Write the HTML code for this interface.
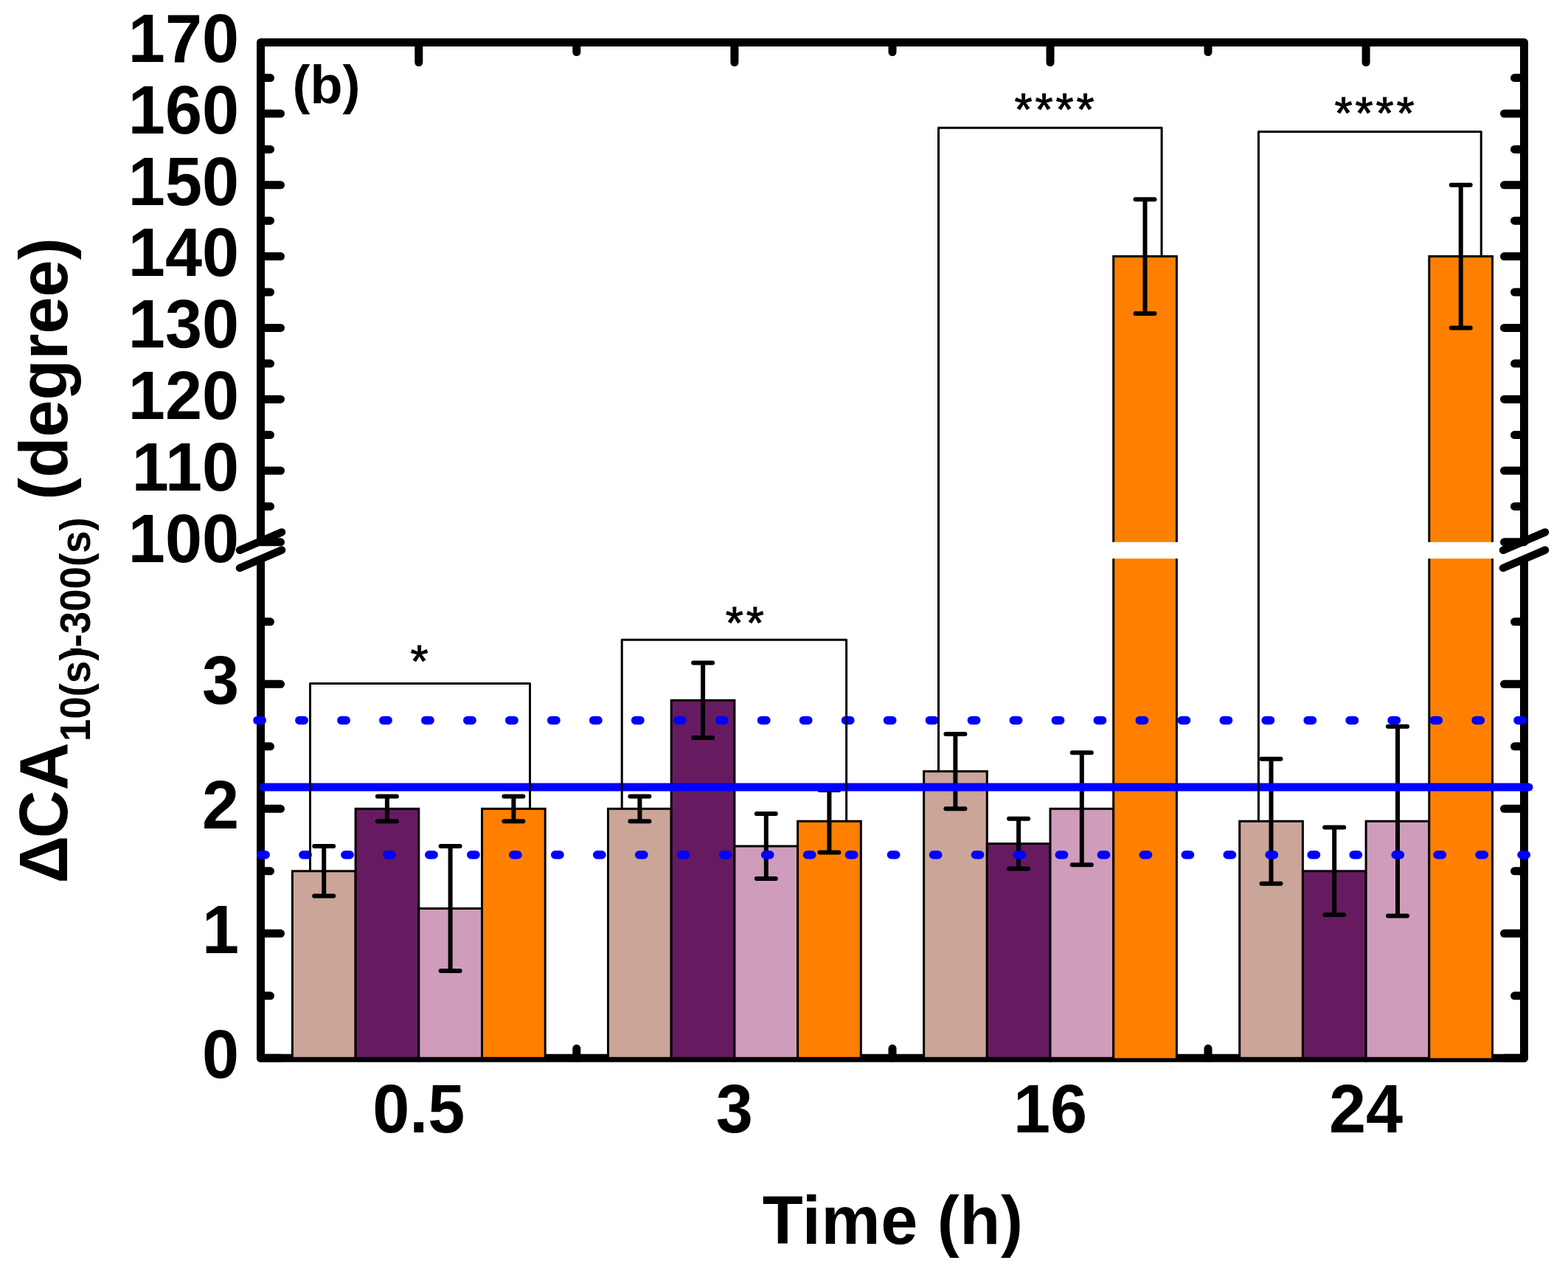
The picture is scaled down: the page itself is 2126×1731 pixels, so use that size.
<!DOCTYPE html>
<html><head><meta charset="utf-8"><title>Chart</title>
<style>html,body{margin:0;padding:0;background:#fff;overflow:hidden}svg{display:block}</style>
</head><body>
<svg width="2126" height="1731" viewBox="0 0 2126 1731">
<rect width="2126" height="1731" fill="#fff"/>
<g stroke="#000"><line x1="353.5" y1="734.8" x2="380.5" y2="734.8" stroke-width="11" stroke-linecap="round"/><line x1="2066.5" y1="734.8" x2="2039.5" y2="734.8" stroke-width="11" stroke-linecap="round"/><line x1="353.5" y1="638.0" x2="380.5" y2="638.0" stroke-width="11" stroke-linecap="round"/><line x1="2066.5" y1="638.0" x2="2039.5" y2="638.0" stroke-width="11" stroke-linecap="round"/><line x1="353.5" y1="541.2" x2="380.5" y2="541.2" stroke-width="11" stroke-linecap="round"/><line x1="2066.5" y1="541.2" x2="2039.5" y2="541.2" stroke-width="11" stroke-linecap="round"/><line x1="353.5" y1="444.4" x2="380.5" y2="444.4" stroke-width="11" stroke-linecap="round"/><line x1="2066.5" y1="444.4" x2="2039.5" y2="444.4" stroke-width="11" stroke-linecap="round"/><line x1="353.5" y1="347.6" x2="380.5" y2="347.6" stroke-width="11" stroke-linecap="round"/><line x1="2066.5" y1="347.6" x2="2039.5" y2="347.6" stroke-width="11" stroke-linecap="round"/><line x1="353.5" y1="250.8" x2="380.5" y2="250.8" stroke-width="11" stroke-linecap="round"/><line x1="2066.5" y1="250.8" x2="2039.5" y2="250.8" stroke-width="11" stroke-linecap="round"/><line x1="353.5" y1="154.0" x2="380.5" y2="154.0" stroke-width="11" stroke-linecap="round"/><line x1="2066.5" y1="154.0" x2="2039.5" y2="154.0" stroke-width="11" stroke-linecap="round"/><line x1="353.5" y1="1434.3" x2="380.5" y2="1434.3" stroke-width="11" stroke-linecap="round"/><line x1="2066.5" y1="1434.3" x2="2039.5" y2="1434.3" stroke-width="11" stroke-linecap="round"/><line x1="353.5" y1="1265.3" x2="380.5" y2="1265.3" stroke-width="11" stroke-linecap="round"/><line x1="2066.5" y1="1265.3" x2="2039.5" y2="1265.3" stroke-width="11" stroke-linecap="round"/><line x1="353.5" y1="1096.3" x2="380.5" y2="1096.3" stroke-width="11" stroke-linecap="round"/><line x1="2066.5" y1="1096.3" x2="2039.5" y2="1096.3" stroke-width="11" stroke-linecap="round"/><line x1="353.5" y1="927.3" x2="380.5" y2="927.3" stroke-width="11" stroke-linecap="round"/><line x1="2066.5" y1="927.3" x2="2039.5" y2="927.3" stroke-width="11" stroke-linecap="round"/><line x1="353.5" y1="686.4" x2="366.5" y2="686.4" stroke-width="11" stroke-linecap="round"/><line x1="2066.5" y1="686.4" x2="2053.5" y2="686.4" stroke-width="11" stroke-linecap="round"/><line x1="353.5" y1="589.6" x2="366.5" y2="589.6" stroke-width="11" stroke-linecap="round"/><line x1="2066.5" y1="589.6" x2="2053.5" y2="589.6" stroke-width="11" stroke-linecap="round"/><line x1="353.5" y1="492.8" x2="366.5" y2="492.8" stroke-width="11" stroke-linecap="round"/><line x1="2066.5" y1="492.8" x2="2053.5" y2="492.8" stroke-width="11" stroke-linecap="round"/><line x1="353.5" y1="396.0" x2="366.5" y2="396.0" stroke-width="11" stroke-linecap="round"/><line x1="2066.5" y1="396.0" x2="2053.5" y2="396.0" stroke-width="11" stroke-linecap="round"/><line x1="353.5" y1="299.2" x2="366.5" y2="299.2" stroke-width="11" stroke-linecap="round"/><line x1="2066.5" y1="299.2" x2="2053.5" y2="299.2" stroke-width="11" stroke-linecap="round"/><line x1="353.5" y1="202.4" x2="366.5" y2="202.4" stroke-width="11" stroke-linecap="round"/><line x1="2066.5" y1="202.4" x2="2053.5" y2="202.4" stroke-width="11" stroke-linecap="round"/><line x1="353.5" y1="105.6" x2="366.5" y2="105.6" stroke-width="11" stroke-linecap="round"/><line x1="2066.5" y1="105.6" x2="2053.5" y2="105.6" stroke-width="11" stroke-linecap="round"/><line x1="353.5" y1="1349.8" x2="366.5" y2="1349.8" stroke-width="11" stroke-linecap="round"/><line x1="2066.5" y1="1349.8" x2="2053.5" y2="1349.8" stroke-width="11" stroke-linecap="round"/><line x1="353.5" y1="1180.8" x2="366.5" y2="1180.8" stroke-width="11" stroke-linecap="round"/><line x1="2066.5" y1="1180.8" x2="2053.5" y2="1180.8" stroke-width="11" stroke-linecap="round"/><line x1="353.5" y1="1011.8" x2="366.5" y2="1011.8" stroke-width="11" stroke-linecap="round"/><line x1="2066.5" y1="1011.8" x2="2053.5" y2="1011.8" stroke-width="11" stroke-linecap="round"/><line x1="353.5" y1="842.8" x2="366.5" y2="842.8" stroke-width="11" stroke-linecap="round"/><line x1="2066.5" y1="842.8" x2="2053.5" y2="842.8" stroke-width="11" stroke-linecap="round"/><line x1="567.8" y1="57.5" x2="567.8" y2="84.5" stroke-width="11" stroke-linecap="round"/><line x1="567.8" y1="1434.3" x2="567.8" y2="1407.3" stroke-width="11" stroke-linecap="round"/><line x1="995.9" y1="57.5" x2="995.9" y2="84.5" stroke-width="11" stroke-linecap="round"/><line x1="995.9" y1="1434.3" x2="995.9" y2="1407.3" stroke-width="11" stroke-linecap="round"/><line x1="1424.0" y1="57.5" x2="1424.0" y2="84.5" stroke-width="11" stroke-linecap="round"/><line x1="1424.0" y1="1434.3" x2="1424.0" y2="1407.3" stroke-width="11" stroke-linecap="round"/><line x1="1852.1" y1="57.5" x2="1852.1" y2="84.5" stroke-width="11" stroke-linecap="round"/><line x1="1852.1" y1="1434.3" x2="1852.1" y2="1407.3" stroke-width="11" stroke-linecap="round"/><line x1="781.8" y1="57.5" x2="781.8" y2="70.5" stroke-width="11" stroke-linecap="round"/><line x1="781.8" y1="1434.3" x2="781.8" y2="1421.3" stroke-width="11" stroke-linecap="round"/><line x1="1210.0" y1="57.5" x2="1210.0" y2="70.5" stroke-width="11" stroke-linecap="round"/><line x1="1210.0" y1="1434.3" x2="1210.0" y2="1421.3" stroke-width="11" stroke-linecap="round"/><line x1="1638.0" y1="57.5" x2="1638.0" y2="70.5" stroke-width="11" stroke-linecap="round"/><line x1="1638.0" y1="1434.3" x2="1638.0" y2="1421.3" stroke-width="11" stroke-linecap="round"/></g>
<path d="M353.5,734.8 V57.5 H2066.5 V734.8 M353.5,757.2 V1434.3 H2066.5 V757.2" fill="none" stroke="#000" stroke-width="11" stroke-linejoin="round"/>
<rect x="396.4" y="1180.8" width="85.7" height="253.5" fill="#CBA598" stroke="#000" stroke-width="3"/><rect x="482.1" y="1096.3" width="85.7" height="338.0" fill="#661B60" stroke="#000" stroke-width="3"/><rect x="567.8" y="1231.5" width="85.7" height="202.8" fill="#D09CBB" stroke="#000" stroke-width="3"/><rect x="653.5" y="1096.3" width="85.7" height="338.0" fill="#FF8000" stroke="#000" stroke-width="3"/><rect x="824.5" y="1096.3" width="85.7" height="338.0" fill="#CBA598" stroke="#000" stroke-width="3"/><rect x="910.2" y="949.3" width="85.7" height="485.0" fill="#661B60" stroke="#000" stroke-width="3"/><rect x="995.9" y="1147.0" width="85.7" height="287.3" fill="#D09CBB" stroke="#000" stroke-width="3"/><rect x="1081.6" y="1113.2" width="85.7" height="321.1" fill="#FF8000" stroke="#000" stroke-width="3"/><rect x="1252.6" y="1045.6" width="85.7" height="388.7" fill="#CBA598" stroke="#000" stroke-width="3"/><rect x="1338.3" y="1143.6" width="85.7" height="290.7" fill="#661B60" stroke="#000" stroke-width="3"/><rect x="1424.0" y="1096.3" width="85.7" height="338.0" fill="#D09CBB" stroke="#000" stroke-width="3"/><rect x="1509.7" y="757.2" width="85.7" height="677.1" fill="#FF8000"/><rect x="1509.7" y="347.6" width="85.7" height="387.2" fill="#FF8000"/><path d="M1509.7,1434.3 V757.2 M1595.4,1434.3 V757.2 M1509.7,734.8 V347.6 H1595.4 V734.8" fill="none" stroke="#000" stroke-width="3"/><rect x="1680.7" y="1113.2" width="85.7" height="321.1" fill="#CBA598" stroke="#000" stroke-width="3"/><rect x="1766.4" y="1180.8" width="85.7" height="253.5" fill="#661B60" stroke="#000" stroke-width="3"/><rect x="1852.1" y="1113.2" width="85.7" height="321.1" fill="#D09CBB" stroke="#000" stroke-width="3"/><rect x="1937.8" y="757.2" width="85.7" height="677.1" fill="#FF8000"/><rect x="1937.8" y="347.6" width="85.7" height="387.2" fill="#FF8000"/><path d="M1937.8,1434.3 V757.2 M2023.5,1434.3 V757.2 M1937.8,734.8 V347.6 H2023.5 V734.8" fill="none" stroke="#000" stroke-width="3"/>
<g stroke="#000"><line x1="439.2" y1="1147.0" x2="439.2" y2="1214.6" stroke-width="6"/><line x1="426.2" y1="1147.0" x2="452.2" y2="1147.0" stroke-width="6" stroke-linecap="round"/><line x1="426.2" y1="1214.6" x2="452.2" y2="1214.6" stroke-width="6" stroke-linecap="round"/><line x1="524.9" y1="1079.4" x2="524.9" y2="1113.2" stroke-width="6"/><line x1="511.9" y1="1079.4" x2="537.9" y2="1079.4" stroke-width="6" stroke-linecap="round"/><line x1="511.9" y1="1113.2" x2="537.9" y2="1113.2" stroke-width="6" stroke-linecap="round"/><line x1="610.6" y1="1147.0" x2="610.6" y2="1316.0" stroke-width="6"/><line x1="597.6" y1="1147.0" x2="623.6" y2="1147.0" stroke-width="6" stroke-linecap="round"/><line x1="597.6" y1="1316.0" x2="623.6" y2="1316.0" stroke-width="6" stroke-linecap="round"/><line x1="696.4" y1="1079.4" x2="696.4" y2="1113.2" stroke-width="6"/><line x1="683.4" y1="1079.4" x2="709.4" y2="1079.4" stroke-width="6" stroke-linecap="round"/><line x1="683.4" y1="1113.2" x2="709.4" y2="1113.2" stroke-width="6" stroke-linecap="round"/><line x1="867.4" y1="1079.4" x2="867.4" y2="1113.2" stroke-width="6"/><line x1="854.4" y1="1079.4" x2="880.4" y2="1079.4" stroke-width="6" stroke-linecap="round"/><line x1="854.4" y1="1113.2" x2="880.4" y2="1113.2" stroke-width="6" stroke-linecap="round"/><line x1="953.1" y1="898.6" x2="953.1" y2="1000.0" stroke-width="6"/><line x1="940.1" y1="898.6" x2="966.1" y2="898.6" stroke-width="6" stroke-linecap="round"/><line x1="940.1" y1="1000.0" x2="966.1" y2="1000.0" stroke-width="6" stroke-linecap="round"/><line x1="1038.8" y1="1103.1" x2="1038.8" y2="1190.9" stroke-width="6"/><line x1="1025.8" y1="1103.1" x2="1051.8" y2="1103.1" stroke-width="6" stroke-linecap="round"/><line x1="1025.8" y1="1190.9" x2="1051.8" y2="1190.9" stroke-width="6" stroke-linecap="round"/><line x1="1124.4" y1="1071.0" x2="1124.4" y2="1155.5" stroke-width="6"/><line x1="1111.4" y1="1071.0" x2="1137.4" y2="1071.0" stroke-width="6" stroke-linecap="round"/><line x1="1111.4" y1="1155.5" x2="1137.4" y2="1155.5" stroke-width="6" stroke-linecap="round"/><line x1="1295.4" y1="994.9" x2="1295.4" y2="1096.3" stroke-width="6"/><line x1="1282.4" y1="994.9" x2="1308.4" y2="994.9" stroke-width="6" stroke-linecap="round"/><line x1="1282.4" y1="1096.3" x2="1308.4" y2="1096.3" stroke-width="6" stroke-linecap="round"/><line x1="1381.1" y1="1109.8" x2="1381.1" y2="1177.4" stroke-width="6"/><line x1="1368.1" y1="1109.8" x2="1394.1" y2="1109.8" stroke-width="6" stroke-linecap="round"/><line x1="1368.1" y1="1177.4" x2="1394.1" y2="1177.4" stroke-width="6" stroke-linecap="round"/><line x1="1466.8" y1="1020.2" x2="1466.8" y2="1172.3" stroke-width="6"/><line x1="1453.8" y1="1020.2" x2="1479.8" y2="1020.2" stroke-width="6" stroke-linecap="round"/><line x1="1453.8" y1="1172.3" x2="1479.8" y2="1172.3" stroke-width="6" stroke-linecap="round"/><line x1="1552.5" y1="270.2" x2="1552.5" y2="425.0" stroke-width="6"/><line x1="1539.5" y1="270.2" x2="1565.5" y2="270.2" stroke-width="6" stroke-linecap="round"/><line x1="1539.5" y1="425.0" x2="1565.5" y2="425.0" stroke-width="6" stroke-linecap="round"/><line x1="1723.5" y1="1028.7" x2="1723.5" y2="1197.7" stroke-width="6"/><line x1="1710.5" y1="1028.7" x2="1736.5" y2="1028.7" stroke-width="6" stroke-linecap="round"/><line x1="1710.5" y1="1197.7" x2="1736.5" y2="1197.7" stroke-width="6" stroke-linecap="round"/><line x1="1809.2" y1="1121.6" x2="1809.2" y2="1240.0" stroke-width="6"/><line x1="1796.2" y1="1121.6" x2="1822.2" y2="1121.6" stroke-width="6" stroke-linecap="round"/><line x1="1796.2" y1="1240.0" x2="1822.2" y2="1240.0" stroke-width="6" stroke-linecap="round"/><line x1="1895.0" y1="984.8" x2="1895.0" y2="1241.6" stroke-width="6"/><line x1="1882.0" y1="984.8" x2="1908.0" y2="984.8" stroke-width="6" stroke-linecap="round"/><line x1="1882.0" y1="1241.6" x2="1908.0" y2="1241.6" stroke-width="6" stroke-linecap="round"/><line x1="1980.7" y1="250.8" x2="1980.7" y2="444.4" stroke-width="6"/><line x1="1967.7" y1="250.8" x2="1993.7" y2="250.8" stroke-width="6" stroke-linecap="round"/><line x1="1967.7" y1="444.4" x2="1993.7" y2="444.4" stroke-width="6" stroke-linecap="round"/></g>
<g stroke="#000" stroke-width="10.5" stroke-linecap="round"><line x1="325.0" y1="745.8" x2="382.0" y2="721.4"/><line x1="325.0" y1="770.0" x2="382.0" y2="745.6"/><line x1="2038.0" y1="745.8" x2="2095.0" y2="721.4"/><line x1="2038.0" y1="770.0" x2="2095.0" y2="745.6"/></g>
<line x1="357.4" y1="1067" x2="2072.9" y2="1067" stroke="#0000FF" stroke-width="11.2" stroke-linecap="round"/>
<line x1="348.9" y1="976.4" x2="2080" y2="976.4" stroke="#0000FF" stroke-width="11.5" stroke-linecap="round" stroke-dasharray="6.3 50.67"/>
<line x1="353.9" y1="1158.7" x2="2080" y2="1158.7" stroke="#0000FF" stroke-width="11.5" stroke-linecap="round" stroke-dasharray="6.3 50.67"/>
<path d="M420.5,1180.8 V926.5 H718.5 V1096.3" fill="none" stroke="#000" stroke-width="3" stroke-linejoin="round"/><path d="M843.2,1096.3 V867.3 H1147.6 V1113.2" fill="none" stroke="#000" stroke-width="3" stroke-linejoin="round"/><path d="M1272.5,1045.6 V173.2 H1575.1 V347.6" fill="none" stroke="#000" stroke-width="3" stroke-linejoin="round"/><path d="M1706.4,1113.2 V178.6 H2008.2 V347.6" fill="none" stroke="#000" stroke-width="3" stroke-linejoin="round"/>
<g font-family="Liberation Sans, sans-serif" font-weight="bold" font-size="90"><text transform="translate(324,761.6) scale(1,1.04)" text-anchor="end">100</text><text transform="translate(324,664.8) scale(1,1.04)" text-anchor="end">110</text><text transform="translate(324,568.0) scale(1,1.04)" text-anchor="end">120</text><text transform="translate(324,471.2) scale(1,1.04)" text-anchor="end">130</text><text transform="translate(324,374.4) scale(1,1.04)" text-anchor="end">140</text><text transform="translate(324,277.6) scale(1,1.04)" text-anchor="end">150</text><text transform="translate(324,180.8) scale(1,1.04)" text-anchor="end">160</text><text transform="translate(324,84.0) scale(1,1.04)" text-anchor="end">170</text><text transform="translate(324,1461.1) scale(1,1.04)" text-anchor="end">0</text><text transform="translate(324,1292.1) scale(1,1.04)" text-anchor="end">1</text><text transform="translate(324,1123.1) scale(1,1.04)" text-anchor="end">2</text><text transform="translate(324,954.1) scale(1,1.04)" text-anchor="end">3</text><text transform="translate(567.8,1534.9) scale(1,1.04)" text-anchor="middle">0.5</text><text transform="translate(995.9,1534.9) scale(1,1.04)" text-anchor="middle">3</text><text transform="translate(1424.0,1534.9) scale(1,1.04)" text-anchor="middle">16</text><text transform="translate(1852.1,1534.9) scale(1,1.04)" text-anchor="middle">24</text></g>
<text transform="translate(1033.8,1686) scale(1,1.03)" font-family="Liberation Sans, sans-serif" font-weight="bold" font-size="90" letter-spacing="0.7">Time (h)</text>
<text x="396.5" y="140" font-family="Liberation Sans, sans-serif" font-weight="bold" font-size="72">(b)</text>
<text x="570.6" y="917.4" text-anchor="middle" font-family="Liberation Sans, sans-serif" font-size="62" letter-spacing="3.9" stroke="#000" stroke-width="1" stroke-linejoin="miter">*</text>
<text x="1011.8" y="864.8000000000001" text-anchor="middle" font-family="Liberation Sans, sans-serif" font-size="62" letter-spacing="3.9" stroke="#000" stroke-width="1" stroke-linejoin="miter">**</text>
<text x="1431.6" y="168.9" text-anchor="middle" font-family="Liberation Sans, sans-serif" font-size="62" letter-spacing="3.9" stroke="#000" stroke-width="1" stroke-linejoin="miter">****</text>
<text x="1865.5" y="173.7" text-anchor="middle" font-family="Liberation Sans, sans-serif" font-size="62" letter-spacing="3.9" stroke="#000" stroke-width="1" stroke-linejoin="miter">****</text>
<text transform="translate(90.5,1197.4) rotate(-90) scale(1,1.03)" font-family="Liberation Sans, sans-serif" font-weight="bold" font-size="90">Δ<tspan dx="-3.5">CA</tspan></text>
<text transform="translate(122,1005.25) rotate(-90) scale(1,1.04)" font-family="Liberation Sans, sans-serif" font-weight="bold" font-size="54.7">10(s)-300(s)</text>
<text transform="translate(90.5,677.4) rotate(-90) scale(1,1.03)" font-family="Liberation Sans, sans-serif" font-weight="bold" font-size="90">(degree)</text>
<rect x="95.2" y="878.9" width="15.8" height="2.1" rx="1" fill="#000"/>
</svg>
</body></html>
